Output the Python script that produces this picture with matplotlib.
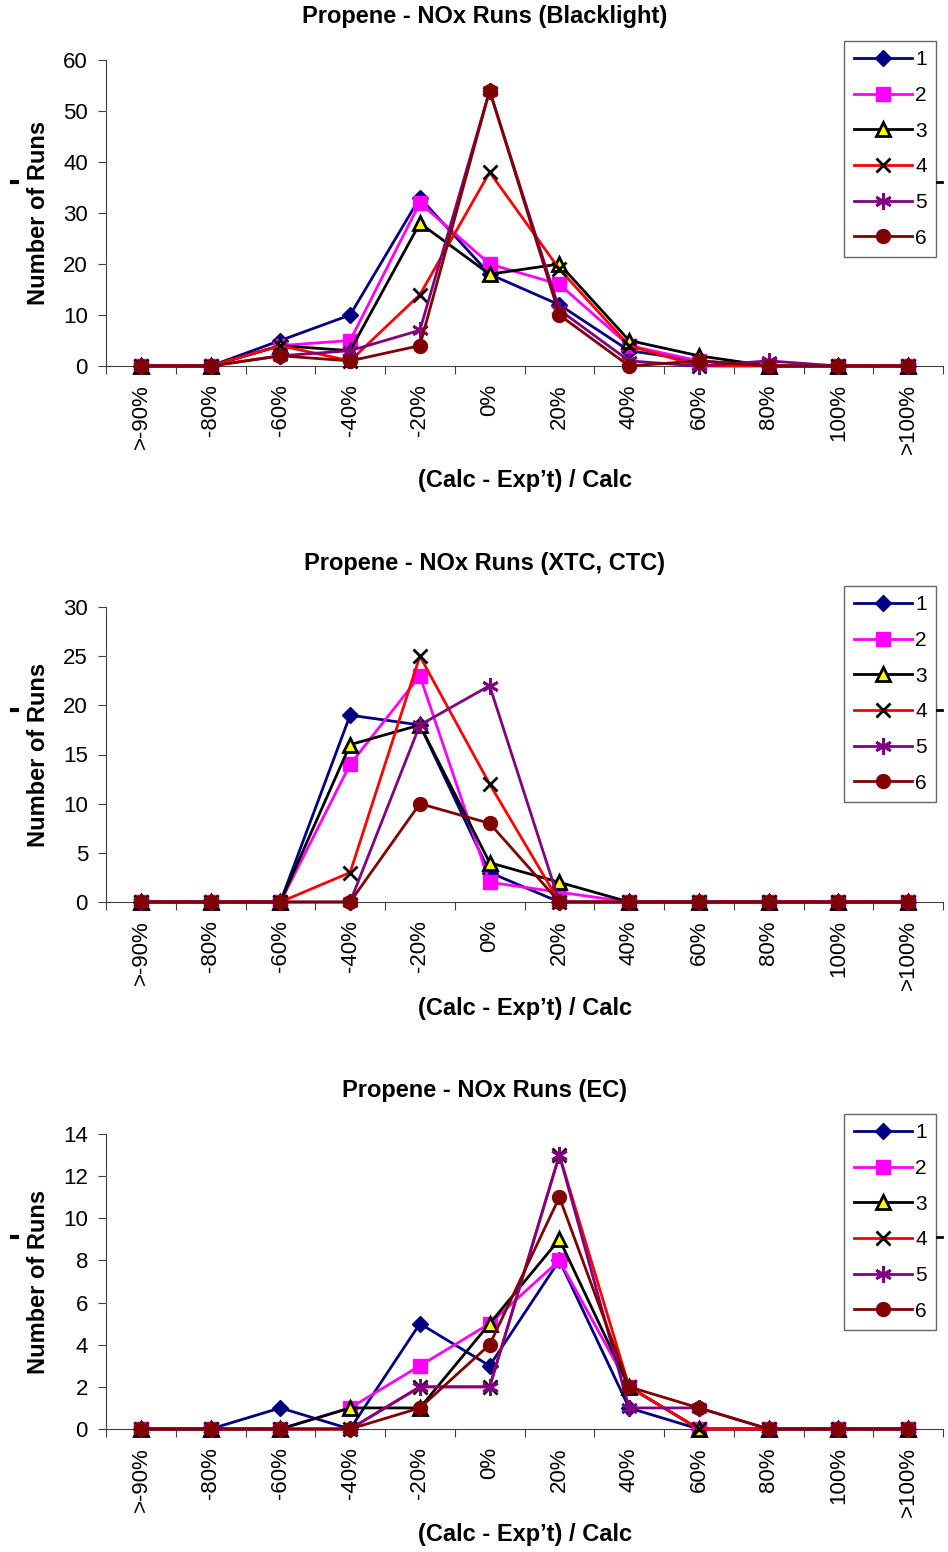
import matplotlib
matplotlib.use("Agg")
import matplotlib.pyplot as plt
from matplotlib.lines import Line2D

plt.rcParams["font.family"] = ["Liberation Sans", "DejaVu Sans"]

# categories on the x axis
categories = [">-90%", "-80%", "-60%", "-40%", "-20%", "0%", "20%", "40%",
              "60%", "80%", "100%", ">100%"]
series_names = ["1", "2", "3", "4", "5", "6"]

# Blacklight runs
blacklight = [
    [0, 0, 5, 10, 33, 18, 12, 3, 1, 0, 0, 0],
    [0, 0, 4, 5, 32, 20, 16, 4, 1, 0, 0, 0],
    [0, 0, 4, 3, 28, 18, 20, 5, 2, 0, 0, 0],
    [0, 0, 4, 1, 14, 38, 19, 4, 0, 0, 0, 0],
    [0, 0, 2, 3, 7, 54, 11, 1, 0, 1, 0, 0],
    [0, 0, 2, 1, 4, 54, 10, 0, 1, 0, 0, 0],
]
# XTC, CTC runs
xtc_ctc = [
    [0, 0, 0, 19, 18, 3, 0, 0, 0, 0, 0, 0],
    [0, 0, 0, 14, 23, 2, 1, 0, 0, 0, 0, 0],
    [0, 0, 0, 16, 18, 4, 2, 0, 0, 0, 0, 0],
    [0, 0, 0, 3, 25, 12, 0, 0, 0, 0, 0, 0],
    [0, 0, 0, 0, 18, 22, 0, 0, 0, 0, 0, 0],
    [0, 0, 0, 0, 10, 8, 0, 0, 0, 0, 0, 0],
]
# EC runs
ec = [
    [0, 0, 1, 0, 5, 3, 8, 1, 0, 0, 0, 0],
    [0, 0, 0, 1, 3, 5, 8, 2, 0, 0, 0, 0],
    [0, 0, 0, 1, 1, 5, 9, 2, 0, 0, 0, 0],
    [0, 0, 0, 0, 2, 2, 13, 2, 0, 0, 0, 0],
    [0, 0, 0, 0, 2, 2, 13, 1, 1, 0, 0, 0],
    [0, 0, 0, 0, 1, 4, 11, 2, 1, 0, 0, 0],
]

titles = ["Propene - NOx Runs (Blacklight)", "Propene - NOx Runs (XTC, CTC)",
          "Propene - NOx Runs (EC)"]
datasets = [blacklight, xtc_ctc, ec]
ymaxes = [60, 30, 14]
ysteps = [10, 5, 2]

# series styles (Excel defaults)
line_colors = ["#000080", "#FF00FF", "#000000", "#FF0000", "#800080", "#800000"]
markers = ["D", "s", "^", "x", (6, 2, 0), "o"]
mfaces = ["#000080", "#FF00FF", "#FFFF00", "none", "#800080", "#800000"]
medges = ["#000080", "#FF00FF", "#000000", "#000000", "#800080", "#800000"]
msizes = [8.5, 9.5, 9.5, 10, 12, 10]

W, H = 948, 1552
fig = plt.figure(figsize=(W / 100, H / 100), dpi=100)

# plot area edges in pixels (top, bottom)
boxes_px = [(60, 366), (607, 902), (1134, 1429)]
title_px = [16, 563, 1090]
xlabel_px = [480, 1008, 1535]
legend_top_px = [41, 586, 1114]
dash_px = [182, 710, 1237]

for k in range(3):
    top_px, bot_px = boxes_px[k]
    b = 1 - bot_px / H
    t = 1 - top_px / H
    ax = fig.add_axes([106 / W, b, (943 - 106) / W, t - b])
    x = list(range(len(categories)))
    for i, vals in enumerate(datasets[k]):
        ax.plot(x, vals, color=line_colors[i], lw=2.0, marker=markers[i],
                markersize=msizes[i], markerfacecolor=mfaces[i],
                markeredgecolor=medges[i],
                markeredgewidth=2.0 if i in (2, 3, 4) else 1.0,
                label=series_names[i], clip_on=False, zorder=3 + i)
    ax.set_xlim(-0.5, len(categories) - 0.5)
    ax.set_ylim(0, ymaxes[k])
    ax.set_yticks(range(0, ymaxes[k] + 1, ysteps[k]))
    ax.tick_params(axis="y", labelsize=16, direction="out", length=6, pad=7,
                   color="#404040")
    ax.set_xticks([i - 0.5 for i in range(len(categories) + 1)])
    ax.set_xticklabels([])
    ax.set_xticks(x, minor=True)
    ax.set_xticklabels(categories, minor=True, rotation=90, fontsize=16)
    ax.tick_params(axis="x", which="major", direction="out", length=6,
                   color="#404040")
    ax.tick_params(axis="x", which="minor", length=0, pad=13)
    for s in ["top", "right"]:
        ax.spines[s].set_visible(False)
    for s in ["left", "bottom"]:
        ax.spines[s].set_color("#404040")

    fig.text(485 / W, 1 - title_px[k] / H, titles[k], ha="center", va="center",
             fontsize=17, fontweight="bold")
    fig.text(525 / W, 1 - xlabel_px[k] / H, "(Calc - Exp\u2019t) / Calc",
             ha="center", va="center", fontsize=17, fontweight="bold")
    fig.text(39 / W, 1 - (top_px + bot_px) / 2 / H, "Number of Runs",
             rotation=90, ha="center", va="center", fontsize=17,
             fontweight="bold")

    leg = ax.legend(loc="upper right",
                    bbox_to_anchor=(936 / W, 1 - legend_top_px[k] / H),
                    bbox_transform=fig.transFigure, fontsize=15, frameon=True,
                    fancybox=False, edgecolor="#404040", handlelength=2.8,
                    handletextpad=0.15, labelspacing=0.8, borderpad=0.45,
                    borderaxespad=0)
    leg.get_frame().set_linewidth(1.0)

    # small dash marks left and right of the chart
    yd = 1 - dash_px[k] / H
    fig.add_artist(Line2D([12 / W, 17 / W], [yd, yd], color="black", lw=3))
    fig.add_artist(Line2D([937 / W, 942 / W], [yd, yd], color="black", lw=2))

fig.savefig("out.png", dpi=100)
